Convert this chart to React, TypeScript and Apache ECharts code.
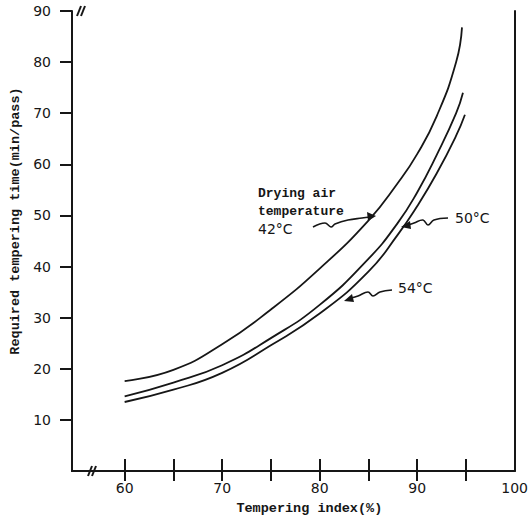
import React, { useEffect, useRef } from "react";
import * as echarts from "echarts";

const temps = ["42°C", "50°C", "54°C"];
const xTicks = [60, 65, 70, 75, 80, 85, 90, 95];
const xLabels = [60, 70, 80, 90, 100];
const yTicks = [10, 20, 30, 40, 50, 60, 70, 80, 90];

const curve42: [number, number][] = [
  [60, 17.6], [65, 19.8], [70, 24.8], [75, 31.6], [80, 39.6], [85, 49.0],
  [88, 56.3], [90, 62.0], [92, 69.4], [94, 80.0], [94.6, 86.8],
];
const curve50: [number, number][] = [
  [60, 14.6], [65, 17.3], [70, 20.7], [75, 26.0], [80, 32.5], [85, 41.5],
  [88, 48.5], [90, 54.5], [92, 61.8], [94, 70.0], [94.7, 74.0],
];
const curve54: [number, number][] = [
  [60, 13.5], [65, 15.9], [70, 19.2], [75, 24.6], [80, 30.8], [85, 39.0],
  [88, 46.2], [90, 51.8], [92, 58.2], [94, 65.6], [94.9, 69.7],
];

const INK = "#161616";
const MONO = "'Liberation Mono', 'DejaVu Sans Mono', monospace";
const SANS = "'DejaVu Sans', sans-serif";

function breakMark(x: number, y: number) {
  return {
    type: "group",
    children: [
      { type: "line", shape: { x1: x - 4, y1: y + 5, x2: x, y2: y - 5 }, style: { stroke: INK, lineWidth: 2 } },
      { type: "line", shape: { x1: x, y1: y + 5, x2: x + 4, y2: y - 5 }, style: { stroke: INK, lineWidth: 2 } },
    ],
  };
}

export default function App() {
  const ref = useRef<HTMLDivElement>(null);
  useEffect(() => {
    if (!ref.current) return;
    const chart = echarts.init(ref.current, null, { renderer: "svg" });
    const axisLine = { show: true, lineStyle: { color: INK, width: 2 } };
    const lineSeries = (name: string, data: [number, number][]) => ({
      name,
      type: "line",
      data,
      smooth: 0.5,
      showSymbol: false,
      lineStyle: { color: INK, width: 1.8 },
      itemStyle: { color: INK },
    });
    chart.setOption({
      animation: false,
      backgroundColor: "#ffffff",
      grid: { left: 72, right: 12, top: 11, bottom: 50 },
      xAxis: [
        {
          type: "value",
          min: 54.6,
          max: 100,
          position: "bottom",
          axisLine,
          axisTick: { show: true, inside: true, length: 12, customValues: xTicks, lineStyle: { color: INK, width: 2 } },
          axisLabel: { customValues: xLabels, color: INK, fontSize: 14, fontFamily: SANS, margin: 10 },
          splitLine: { show: false },
          name: "Tempering index(%)",
          nameLocation: "middle",
          nameGap: 30,
          nameTextStyle: { color: INK, fontSize: 13.5, fontFamily: MONO, fontWeight: "bold", padding: [0, 0, 0, 32] },
        },
        {
          type: "value",
          min: 54.6,
          max: 100,
          position: "top",
          axisLine,
          axisTick: { show: true, inside: true, length: 10, customValues: xTicks, lineStyle: { color: INK, width: 2 } },
          axisLabel: { show: false },
          splitLine: { show: false },
        },
      ],
      yAxis: [
        {
          type: "value",
          min: 0,
          max: 90,
          position: "left",
          axisLine,
          axisTick: { show: true, inside: false, length: 12, customValues: yTicks, lineStyle: { color: INK, width: 2 } },
          axisLabel: { customValues: yTicks, color: INK, fontSize: 14, fontFamily: SANS, margin: 21 },
          splitLine: { show: false },
          name: "Required tempering time(min/pass)",
          nameLocation: "middle",
          nameGap: 47,
          nameTextStyle: { color: INK, fontSize: 13.5, fontFamily: MONO, fontWeight: "bold", padding: [0, 0, 0, 40] },
        },
        {
          type: "value",
          min: 0,
          max: 90,
          position: "right",
          axisLine,
          axisTick: { show: false },
          axisLabel: { show: false },
          splitLine: { show: false },
        },
      ],
      series: [
        lineSeries(temps[0], curve42),
        lineSeries(temps[1], curve50),
        lineSeries(temps[2], curve54),
      ],
      graphic: [
        breakMark(81, 11),
        breakMark(92, 471),
        // 42°C annotation
        { type: "text", x: 258, y: 193, style: { text: "Drying air", font: `bold 13px ${MONO}`, fill: INK, verticalAlign: "middle" } },
        { type: "text", x: 258, y: 211, style: { text: "temperature", font: `bold 13px ${MONO}`, fill: INK, verticalAlign: "middle" } },
        { type: "text", x: 258, y: 229, style: { text: "42°C", font: `14px ${SANS}`, fill: INK, verticalAlign: "middle" } },
        {
          type: "polyline",
          shape: { points: [[313, 227], [325, 223], [331, 227], [335, 224], [348, 220], [362, 218], [370, 217]], smooth: 0.4 },
          style: { stroke: INK, lineWidth: 1.6, fill: null },
        },
        { type: "polygon", shape: { points: [[376, 216], [367, 212], [368, 221]] }, style: { fill: INK } },
        // 50°C annotation
        { type: "text", x: 455, y: 218, style: { text: "50°C", font: `14px ${SANS}`, fill: INK, verticalAlign: "middle" } },
        {
          type: "polyline",
          shape: { points: [[448, 218], [434, 220], [428, 225], [423, 220], [414, 223], [408, 225]], smooth: 0.4 },
          style: { stroke: INK, lineWidth: 1.6, fill: null },
        },
        { type: "polygon", shape: { points: [[401, 227], [410, 221], [411, 229]] }, style: { fill: INK } },
        // 54°C annotation
        { type: "text", x: 398, y: 288, style: { text: "54°C", font: `14px ${SANS}`, fill: INK, verticalAlign: "middle" } },
        {
          type: "polyline",
          shape: { points: [[392, 290], [380, 292], [373, 296], [368, 292], [358, 296], [351, 298]], smooth: 0.4 },
          style: { stroke: INK, lineWidth: 1.6, fill: null },
        },
        { type: "polygon", shape: { points: [[344, 301], [352, 294], [354, 302]] }, style: { fill: INK } },
      ],
    });
    return () => chart.dispose();
  }, []);
  return <div ref={ref} style={{ width: 531, height: 521, position: "absolute", left: 0, top: 0 }} />;
}
